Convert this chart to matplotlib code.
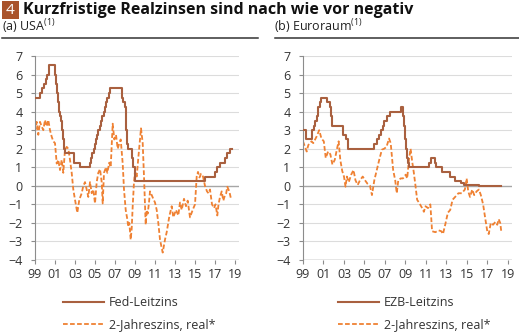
import matplotlib
matplotlib.use("Agg")
import matplotlib.pyplot as plt
from matplotlib.lines import Line2D
from matplotlib.patches import Rectangle

plt.rcParams['font.family'] = ['Open Sans', 'DejaVu Sans']
plt.rcParams['mathtext.fontset'] = 'custom'
plt.rcParams['mathtext.rm'] = 'Open Sans'

# Leitzinsen: Datum der Änderung (Dezimaljahr) und neues Niveau in %
fed_t = [1999.0, 1999.5, 1999.65, 1999.88, 2000.1, 2000.22, 2000.38, 2001.0, 2001.08,
         2001.22, 2001.3, 2001.38, 2001.48, 2001.64, 2001.71, 2001.8, 2001.86, 2001.95,
         2002.86, 2003.48, 2004.5, 2004.61, 2004.72, 2004.86, 2004.95, 2005.09, 2005.22,
         2005.34, 2005.5, 2005.61, 2005.72, 2005.86, 2005.95, 2006.08, 2006.24, 2006.36,
         2006.5, 2007.72, 2007.83, 2007.95, 2008.06, 2008.08, 2008.22, 2008.33, 2008.69,
         2008.83, 2008.96, 2015.96, 2016.96, 2017.21, 2017.46, 2017.96, 2018.21, 2018.46,
         2018.67]
fed_v = [4.75, 5.0, 5.25, 5.5, 5.75, 6.0, 6.5, 6.0, 5.5,
         5.0, 4.5, 4.0, 3.75, 3.5, 3.0, 2.5, 2.0, 1.75,
         1.25, 1.0, 1.25, 1.5, 1.75, 2.0, 2.25, 2.5, 2.75,
         3.0, 3.25, 3.5, 3.75, 4.0, 4.25, 4.5, 4.75, 5.0,
         5.25, 4.75, 4.5, 4.25, 3.5, 3.0, 2.25, 2.0, 1.5,
         1.0, 0.25, 0.5, 0.75, 1.0, 1.25, 1.5, 1.75, 2.0,
         2.0]

ezb_t = [1999.0, 1999.27, 1999.84, 2000.09, 2000.21, 2000.32, 2000.44, 2000.68, 2000.78,
         2001.36, 2001.62, 2001.71, 2001.86, 2002.93, 2003.18, 2003.43, 2005.93, 2006.19,
         2006.44, 2006.6, 2006.78, 2006.94, 2007.19, 2007.45, 2008.53, 2008.78, 2008.86,
         2008.94, 2009.05, 2009.18, 2009.27, 2009.36, 2011.28, 2011.52, 2011.84, 2011.95,
         2012.52, 2013.34, 2013.85, 2014.44, 2014.69, 2016.19, 2018.35]
ezb_v = [3.0, 2.5, 3.0, 3.25, 3.5, 3.75, 4.25, 4.5, 4.75,
         4.5, 4.25, 3.75, 3.25, 2.75, 2.5, 2.0, 2.25, 2.5,
         2.75, 3.0, 3.25, 3.5, 3.75, 4.0, 4.25, 3.75, 3.25,
         2.5, 2.0, 1.5, 1.25, 1.0, 1.25, 1.5, 1.25, 1.0,
         0.75, 0.5, 0.25, 0.15, 0.05, 0.0, 0.0]

# 2-jährige Realzinsen in %
us_real_t = [1999.0, 1999.17, 1999.33, 1999.5, 1999.67, 1999.83, 2000.0, 2000.17, 2000.33,
             2000.5, 2000.67, 2000.83, 2001.0, 2001.17, 2001.33, 2001.5, 2001.67, 2001.83,
             2002.0, 2002.17, 2002.33, 2002.5, 2002.67, 2002.83, 2003.0, 2003.23, 2003.43,
             2003.67, 2003.83, 2004.0, 2004.17, 2004.33, 2004.5, 2004.67, 2004.83, 2005.0,
             2005.17, 2005.33, 2005.5, 2005.67, 2005.77, 2005.9, 2006.1, 2006.23, 2006.43,
             2006.57, 2006.77, 2006.93, 2007.1, 2007.27, 2007.43, 2007.57, 2007.77, 2007.9,
             2008.07, 2008.23, 2008.33, 2008.43, 2008.57, 2008.67, 2008.77, 2008.9, 2009.0,
             2009.17, 2009.33, 2009.5, 2009.6, 2009.77, 2009.9, 2010.07, 2010.17, 2010.27,
             2010.4, 2010.5, 2010.67, 2010.83, 2011.0, 2011.17, 2011.33, 2011.5, 2011.65,
             2011.77, 2011.9, 2012.0, 2012.17, 2012.43, 2012.67, 2012.83, 2013.1, 2013.33,
             2013.5, 2013.67, 2013.9, 2014.1, 2014.27, 2014.5, 2014.77, 2015.0, 2015.17,
             2015.3, 2015.45, 2015.6, 2015.8, 2016.0, 2016.2, 2016.35, 2016.5, 2016.7,
             2016.9, 2017.05, 2017.23, 2017.35, 2017.5, 2017.67, 2017.83, 2018.0, 2018.12,
             2018.23, 2018.43, 2018.6]
us_real_v = [2.9, 3.45, 2.75, 3.45, 3.2, 3.0, 3.55, 3.2, 3.55,
             3.0, 2.65, 2.4, 2.3, 1.2, 1.4, 0.85, 1.4, 0.7,
             1.95, 2.1, 2.0, 1.4, 0.7, -0.2, -0.75, -1.45, -0.75,
             -0.4, 0.0, 0.2, -0.2, -0.6, 0.2, -0.4, -0.2, -0.95,
             0.2, 0.7, 0.9, 0.2, -0.95, 0.7, 1.0, 0.7, 1.25,
             1.0, 3.35, 2.5, 2.75, 2.0, 2.3, 2.5, 1.2, -0.2,
             -1.3, -1.8, -2.2, -2.0, -2.9, -2.3, -1.1, 0.2, 0.77,
             0.5, 1.5, 2.5, 3.1, 2.3, 0.5, -2.1, -1.3, -1.5,
             -0.9, -0.3, -0.5, -0.7, -0.9, -1.3, -2.0, -2.9, -3.3,
             -3.6, -3.2, -2.9, -2.5, -1.65, -1.1, -1.7, -1.3, -1.6,
             -0.9, -1.3, -0.7, -1.1, -0.8, -1.7, -1.3, -1.0, 0.5,
             0.75, 0.45, 0.65, 0.5, 0.0, -0.3, -0.4, -0.2, -1.0,
             -1.2, -1.0, -1.6, -1.0, -0.6, -0.3, -0.8, -0.5, -0.4,
             -0.05, -0.3, -0.7]

eu_real_t = [1999.0, 1999.36, 1999.52, 1999.84, 2000.0, 2000.32, 2000.58, 2000.8, 2001.03,
             2001.22, 2001.45, 2001.67, 2001.87, 2002.1, 2002.32, 2002.48, 2002.64, 2002.83,
             2003.0, 2003.15, 2003.28, 2003.47, 2003.7, 2003.93, 2004.12, 2004.34, 2004.56,
             2004.83, 2005.05, 2005.31, 2005.54, 2005.73, 2005.96, 2006.18, 2006.44, 2006.7,
             2006.92, 2007.15, 2007.4, 2007.56, 2007.8, 2008.0, 2008.15, 2008.3, 2008.54,
             2008.76, 2009.02, 2009.17, 2009.34, 2009.5, 2009.66, 2009.82, 2009.98, 2010.14,
             2010.37, 2010.63, 2010.8, 2010.95, 2011.2, 2011.43, 2011.6, 2011.92, 2012.24,
             2012.5, 2012.66, 2012.88, 2013.14, 2013.37, 2013.6, 2013.85, 2014.17, 2014.5,
             2014.8, 2014.97, 2015.13, 2015.3, 2015.52, 2015.71, 2015.94, 2016.17, 2016.36,
             2016.58, 2016.8, 2017.0, 2017.13, 2017.33, 2017.55, 2017.77, 2017.96, 2018.1,
             2018.25, 2018.35]
eu_real_v = [2.4, 1.85, 2.2, 2.4, 2.3, 2.65, 3.0, 2.55, 2.4,
             1.5, 1.85, 1.7, 1.15, 1.4, 2.0, 2.4, 1.4, 0.8,
             0.5, -0.05, 0.5, 0.2, 0.6, 0.85, 0.3, 0.05, 0.3,
             0.5, 0.3, 0.1, 0.0, -0.5, 0.3, 0.8, 1.4, 1.95,
             2.0, 2.1, 2.55, 2.3, 0.85, 0.3, -0.4, 0.3, 0.4,
             0.4, 0.6, 0.4, 1.4, 2.0, 1.3, 0.7, 0.0, -0.75,
             -0.95, -1.2, -1.4, -1.1, -1.2, -1.0, -2.45, -2.5, -2.4,
             -2.45, -2.6, -2.1, -1.45, -1.3, -0.75, -0.6, -0.4, -0.4,
             -0.2, 0.4, -0.3, -0.6, -0.2, -0.5, -0.3, -0.2, -0.5,
             -1.0, -1.8, -2.5, -2.6, -2.0, -2.1, -1.95, -2.1, -1.8,
             -2.0, -2.45]

year_ticks = list(range(1999, 2020, 2))
year_labels = ['99', '01', '03', '05', '07', '09', '11', '13', '15', '17', '19']
y_ticks = list(range(-4, 8))

brown = '#a9603f'
orange = '#ef8133'
W, H = 519, 335

fig = plt.figure(figsize=(W / 100, H / 100), dpi=100)

# Titel mit nummeriertem Kästchen
fig.add_artist(Rectangle((2 / W, 1 - 19 / H), 17 / W, 18 / H, transform=fig.transFigure,
                         facecolor='#a9532b', edgecolor='none'))
fig.text(10.5 / W, 1 - 10.5 / H, '4', color='white', fontsize=11, ha='center', va='center')
fig.text(23 / W, 1 - 10.5 / H, 'Kurzfristige Realzinsen sind nach wie vor negativ',
         fontsize=11.5, fontweight='bold', ha='left', va='center', color='#111111')


def panel(rect, sub, sub_x, rule, rate_t, rate_v, rate_lbl, real_t, real_v, leg_x):
    ax = fig.add_axes(rect)
    fig.text(sub_x / W, 1 - 27 / H, sub, fontsize=9, ha='left', va='center', color='#222222')
    fig.add_artist(Line2D([rule[0] / W, rule[1] / W], [1 - 38 / H, 1 - 38 / H],
                          transform=fig.transFigure, color='#333333', lw=1.1))

    for y in y_ticks:
        if y == 0:
            ax.axhline(y, color='#a6a6a6', lw=1.0, zorder=1)
        else:
            ax.axhline(y, color='#dcdcdc', lw=0.8, zorder=1)

    l1, = ax.plot(rate_t, rate_v, drawstyle='steps-post', color=brown, lw=1.5, zorder=3)
    l2, = ax.plot(real_t, real_v, color=orange, lw=1.3, dashes=(2.6, 1.3), zorder=2)

    ax.set_xlim(1999, 2019.4)
    ax.set_ylim(-4, 7)
    ax.set_xticks(year_ticks)
    ax.set_xticklabels(year_labels)
    ax.set_yticks(y_ticks)
    for s in ['top', 'right']:
        ax.spines[s].set_visible(False)
    ax.spines['bottom'].set_visible(False)
    ax.spines['left'].set_color('#8c8c8c')
    ax.axhline(-4, color='#8c8c8c', lw=1.0, zorder=1)
    ax.tick_params(axis='both', colors='#8c8c8c', labelcolor='#333333', labelsize=9,
                   length=3, width=0.8)
    ax.tick_params(axis='y', pad=6)
    ax.tick_params(axis='x', pad=3)

    leg = ax.legend([l1, l2], [rate_lbl, '2-Jahreszins, real*'], loc='upper left',
                    bbox_to_anchor=(leg_x / W, 1 - 296 / H), bbox_transform=fig.transFigure,
                    frameon=False, fontsize=9, handlelength=3.3, handletextpad=0.35,
                    labelspacing=0.75, borderpad=0, borderaxespad=0)
    for t in leg.get_texts():
        t.set_color('#333333')
    return ax


panel([35 / W, 1 - 260 / H, 204 / W, 204 / H], r'(a) USA$^{\mathrm{(1)}}$', 2, (2, 258),
      fed_t, fed_v, 'Fed-Leitzins', us_real_t, us_real_v, 63)
panel([303 / W, 1 - 260 / H, 209 / W, 204 / H], r'(b) Euroraum$^{\mathrm{(1)}}$', 274, (275, 519),
      ezb_t, ezb_v, 'EZB-Leitzins', eu_real_t, eu_real_v, 338)

fig.savefig('out.png', dpi=100)
